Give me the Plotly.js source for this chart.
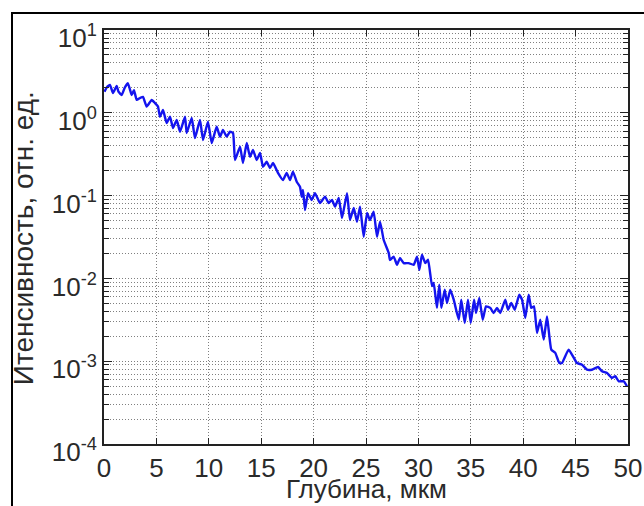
<!DOCTYPE html>
<html>
<head>
<meta charset="utf-8">
<script src="https://cdn.plot.ly/plotly-3.0.1.min.js"></script>
<style>
html,body{margin:0;padding:0;background:#fff;}
#wrap{position:relative;width:644px;height:506px;overflow:hidden;}
#frame{position:absolute;left:11px;top:12px;width:700px;height:600px;border-left:2px solid #000;border-top:2px solid #000;pointer-events:none;}
#chart{position:absolute;left:0;top:0;width:644px;height:506px;}
</style>
</head>
<body>
<div id="wrap"><div id="chart"></div><div id="frame"></div></div>
<script>
const depth = [0.05,0.29,0.57,0.86,1.21,1.38,1.69,1.96,2.29,2.64,2.86,3.12,3.44,3.72,4.07,4.55,4.87,5.15,5.34,5.63,5.98,6.30,6.58,6.94,7.25,7.73,7.89,8.37,8.68,9.16,9.45,9.92,10.28,10.75,11.07,11.35,11.71,12.02,12.31,12.50,12.98,13.26,13.62,13.93,14.22,14.57,14.89,15.17,15.52,15.84,16.13,16.60,17.08,17.43,17.75,18.03,18.39,18.70,18.86,18.99,19.18,19.47,19.82,20.13,20.61,21.09,21.44,21.76,22.04,22.40,22.71,23.19,23.47,23.83,24.14,24.43,24.78,25.10,25.38,25.73,26.05,26.34,26.69,27.17,27.29,27.64,27.96,28.24,28.60,29.07,29.55,29.87,30.09,30.34,30.66,30.92,31.30,31.46,31.77,31.99,32.19,32.51,32.73,33.04,33.37,33.85,34.09,34.42,34.73,34.99,35.31,35.50,35.81,36.14,36.45,36.86,37.18,37.50,37.81,38.29,38.55,38.86,39.19,39.63,39.89,40.20,40.52,40.77,41.03,41.32,41.63,41.96,42.27,42.68,43.06,43.45,43.70,44.34,45.13,45.61,46.09,46.56,47.14,47.52,48.00,48.47,48.79,49.11,49.59,49.90];
const intensity = [1.80,2.05,2.17,1.73,2.11,1.80,1.64,1.99,2.27,1.64,1.88,1.43,1.51,1.56,1.19,1.43,1.31,1.19,0.897,1.08,0.753,0.897,0.655,0.818,0.591,0.897,0.570,0.865,0.496,0.818,0.469,0.781,0.431,0.679,0.515,0.620,0.515,0.591,0.570,0.269,0.390,0.248,0.431,0.295,0.355,0.269,0.327,0.223,0.256,0.215,0.248,0.188,0.154,0.188,0.154,0.195,0.147,0.128,0.097,0.117,0.0670,0.107,0.0885,0.107,0.0815,0.097,0.0815,0.0885,0.0735,0.0935,0.0536,0.107,0.0507,0.0708,0.0484,0.0735,0.0319,0.0616,0.0507,0.0640,0.0319,0.0484,0.0291,0.0203,0.0167,0.0183,0.0146,0.0176,0.0153,0.0153,0.0146,0.0183,0.0127,0.0193,0.0153,0.0168,0.00809,0.00879,0.00440,0.00839,0.00440,0.00731,0.00505,0.00731,0.00553,0.00317,0.00553,0.00289,0.00553,0.00289,0.00553,0.00382,0.00579,0.00317,0.00460,0.00440,0.00382,0.00440,0.00382,0.00553,0.00419,0.00505,0.00419,0.00635,0.00553,0.00333,0.00635,0.00440,0.00460,0.00219,0.00317,0.00182,0.00348,0.00138,0.00126,0.000951,0.000951,0.00138,0.000951,0.000908,0.000789,0.000789,0.000851,0.000755,0.000719,0.000627,0.000658,0.000572,0.000572,0.000498];
const yTickVals = [1e-4,1e-3,1e-2,1e-1,1e0,1e1];
const yTickExp = ['-4','-3','-2','-1','0','1'];
const xTickVals = [0,5,10,15,20,25,30,35,40,45,50];
const xTitle = 'Глубина, мкм';
const yTitle = 'Итенсивность, отн. ед.';

const yTickText = yTickExp.map(e => '10<sup>' + e + '</sup>');

const family = 'Liberation Sans, Arial, sans-serif';
const tickFont = {family: family, size: 26, color: '#2a2a2a'};
const gridStyle = {showgrid: true, gridcolor: '#808080', griddash: '1px,2px', gridwidth: 1};

Plotly.newPlot('chart', [{
  x: depth, y: intensity, type: 'scatter', mode: 'lines',
  line: {color: '#1414ee', width: 2.4, shape: 'spline', smoothing: 0.4}
}], {
  width: 644, height: 506,
  margin: {l: 104, r: 16, t: 30, b: 62},
  paper_bgcolor: '#fff', plot_bgcolor: '#fff',
  showlegend: false,
  font: tickFont,
  xaxis: Object.assign({
    range: [0, 50], tickmode: 'array', tickvals: xTickVals,
    ticks: 'inside', ticklen: 6, tickcolor: '#222', mirror: 'ticks',
    showline: true, linecolor: '#222', linewidth: 2, zeroline: false,
    tickfont: tickFont
  }, gridStyle),
  yaxis: Object.assign({
    type: 'log', range: [-4, 1], tickmode: 'array', tickvals: yTickVals, ticktext: yTickText,
    ticks: 'inside', ticklen: 8, tickcolor: '#222', mirror: 'ticks',
    showline: true, linecolor: '#222', linewidth: 2, zeroline: false,
    tickfont: tickFont, ticklabelshift: 8,
    minor: {dtick: 'D1', ticks: 'inside', ticklen: 5, tickcolor: '#222', showgrid: true, gridcolor: '#808080', griddash: '1px,2px', gridwidth: 1}
  }, gridStyle),
  annotations: [
    {text: xTitle, xref: 'paper', yref: 'paper', x: 0.5, xanchor: 'center',
     y: -0.1498, yanchor: 'bottom', showarrow: false,
     font: {family: family, size: 26, color: '#2a2a2a'}},
    {text: yTitle, xref: 'paper', yref: 'paper', x: -0.1546, xanchor: 'center',
     y: 0.497, yanchor: 'middle', textangle: -90, showarrow: false,
     font: {family: family, size: 28, color: '#2a2a2a'}}
  ]
}, {staticPlot: true});
</script>
</body>
</html>
